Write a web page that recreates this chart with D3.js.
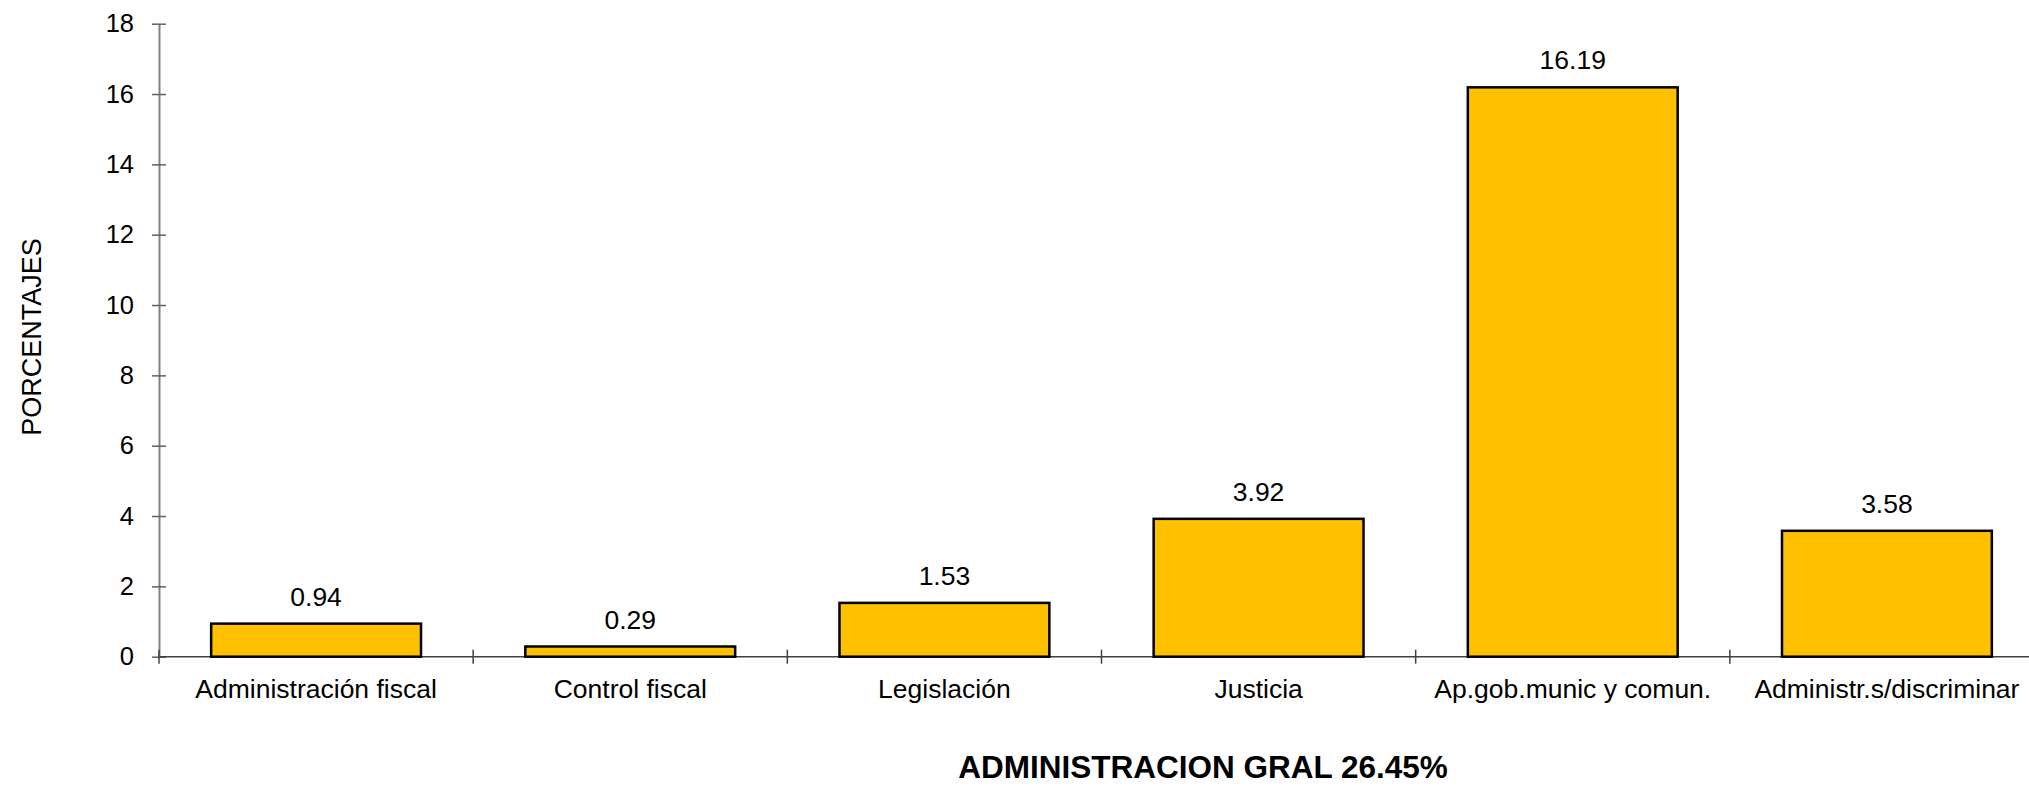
<!DOCTYPE html>
<html>
<head>
<meta charset="utf-8">
<script src="https://cdn.jsdelivr.net/npm/d3@7"></script>
<style>
  html, body { margin: 0; padding: 0; background: #fff; }
  svg { display: block; }
  text { font-family: "Liberation Sans", Arial, sans-serif; fill: #000; }
</style>
</head>
<body>
<svg id="chart" width="2029" height="788"></svg>
<script>
const categories = ["Administración fiscal", "Control fiscal", "Legislación", "Justicia", "Ap.gob.munic y comun.", "Administr.s/discriminar"];
const values = [0.94, 0.29, 1.53, 3.92, 16.19, 3.58];
const valueLabels = ["0.94", "0.29", "1.53", "3.92", "16.19", "3.58"];
const yTicks = [0, 2, 4, 6, 8, 10, 12, 14, 16, 18];
const yTitle = "PORCENTAJES";
const xTitle = "ADMINISTRACION GRAL 26.45%";

const svg = d3.select("#chart");
const plotLeft = 159, plotRight = 2044, plotTop = 23.7, plotBottom = 656.7;

const x = d3.scaleBand().domain(categories).range([plotLeft, plotRight])
  .paddingInner(0.332).paddingOuter(0.166);
const y = d3.scaleLinear().domain([0, 18]).range([plotBottom, plotTop]);

// Y axis
const yAxis = svg.append("g").attr("transform", `translate(${plotLeft},0)`)
  .call(d3.axisLeft(y).tickValues(yTicks).tickSize(0).tickPadding(25).tickFormat(d3.format("d")));
yAxis.select(".domain").attr("stroke", "#808080").attr("stroke-width", 2);
yAxis.selectAll(".tick text").attr("font-size", 25.5).attr("font-family", "Liberation Sans, Arial, sans-serif").attr("fill", "#000");
yAxis.selectAll(".tick").append("line").attr("x1", -7).attr("x2", 7).attr("stroke", "#606060").attr("stroke-width", 1.5);

// X axis
const xAxis = svg.append("g").attr("transform", `translate(0,${plotBottom})`)
  .call(d3.axisBottom(x).tickSize(0).tickPadding(22));
xAxis.select(".domain").remove();
xAxis.append("line").attr("x1", plotLeft).attr("x2", 2029).attr("stroke", "#404040").attr("stroke-width", 1.5);
xAxis.selectAll(".tick text").attr("font-size", 26.5).attr("font-family", "Liberation Sans, Arial, sans-serif").attr("fill", "#000");
xAxis.selectAll(".bound").data(d3.range(categories.length + 1)).enter().append("line")
  .attr("class", "bound")
  .attr("x1", i => x.range()[0] + i * x.step()).attr("x2", i => x.range()[0] + i * x.step())
  .attr("y1", -7).attr("y2", 7).attr("stroke", "#404040").attr("stroke-width", 1.5);

// Bars
svg.append("g").selectAll("rect").data(categories).enter().append("rect")
  .attr("x", (d) => x(d))
  .attr("y", (d, i) => y(values[i]))
  .attr("width", x.bandwidth())
  .attr("height", (d, i) => y(0) - y(values[i]))
  .attr("fill", "#FFC000").attr("stroke", "#000").attr("stroke-width", 2.5);

// Value labels
svg.append("g").selectAll("text").data(categories).enter().append("text")
  .attr("x", d => x(d) + x.bandwidth() / 2)
  .attr("y", (d, i) => y(values[i]) - 18)
  .attr("text-anchor", "middle").attr("font-size", 26.5)
  .text((d, i) => valueLabels[i]);

// Axis titles
svg.append("text").attr("transform", "translate(41,337) rotate(-90)")
  .attr("text-anchor", "middle").attr("font-size", 27).text(yTitle);
svg.append("text").attr("x", 1203).attr("y", 778)
  .attr("text-anchor", "middle").attr("font-size", 31.5).attr("font-weight", "bold").text(xTitle);
</script>
</body>
</html>
